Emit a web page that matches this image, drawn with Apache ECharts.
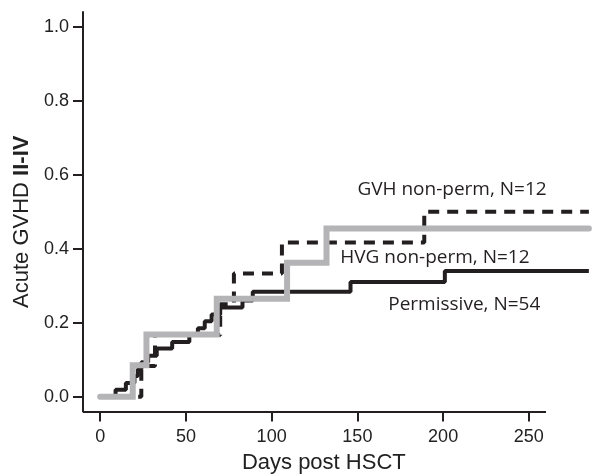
<!DOCTYPE html>
<html>
<head>
<meta charset="utf-8">
<script src="https://cdn.jsdelivr.net/npm/echarts@6/dist/echarts.min.js"></script>
<style>
html,body{margin:0;padding:0;background:#fff;}
#chart{width:592px;height:474px;}
</style>
</head>
<body>
<div id="chart"></div>
<script>
// ---- data ----
const xTicks = [0, 50, 100, 150, 200, 250];
const yTicks = [0, 0.2, 0.4, 0.6, 0.8, 1.0];

const permDays = [0, 9, 15, 20, 22, 24, 28, 33, 42, 52, 57, 61, 65, 70, 83, 89, 146, 201, 285];
const permVals = [0, 0.019, 0.037, 0.056, 0.074, 0.093, 0.111, 0.13, 0.148, 0.167, 0.185, 0.204, 0.222, 0.241, 0.26, 0.284, 0.31, 0.34, 0.34];

const gvhDays = [0, 24, 32, 70, 78, 106, 189, 285];
const gvhVals = [0, 0.083, 0.167, 0.25, 0.333, 0.417, 0.5, 0.5];

const hvgDays = [0, 19, 27, 68, 109, 132, 285];
const hvgVals = [0, 0.085, 0.168, 0.265, 0.362, 0.455, 0.455];

const seriesNames = ['Permissive, N=54', 'GVH non-perm, N=12', 'HVG non-perm, N=12'];
// label anchors (day, value) for the in-plot labels
const labelAnchors = [[168, 0.248], [150, 0.559], [140, 0.375]];
// drawn extent of the x axis line (days)
const xAxisSpan = [-10, 260];
const yMin = -0.04, yMax = 1.04;

const zip = (a, b) => a.map((d, i) => [d, b[i]]);

const chart = echarts.init(document.getElementById('chart'));
const black = '#231f20';
const gray = '#b4b4b6';
const labelFont = { fontFamily: 'Open Sans', fontSize: 19, color: black };

function mk(i) {
  return {
    data: [{ coord: labelAnchors[i], value: seriesNames[i] }],
    symbol: 'circle', symbolSize: 0, silent: true,
    label: Object.assign({ show: true, position: 'inside', align: 'left', verticalAlign: 'middle',
      formatter: seriesNames[i] }, labelFont)
  };
}

chart.setOption({
  animation: false,
  backgroundColor: '#fff',
  grid: { left: 83, right: 1.4, top: 12, bottom: 62.5, outerBoundsMode: 'none', containLabel: false },
  xAxis: {
    type: 'value', min: -10, max: 286,
    splitLine: { show: false },
    axisLine: { show: false, onZero: false },
    axisTick: { show: true, length: 10, lineStyle: { color: black, width: 2 }, customValues: xTicks },
    axisLabel: { customValues: xTicks, margin: 17, fontFamily: 'Liberation Sans', fontSize: 18, color: '#222' },
    name: 'Days post HSCT', nameLocation: 'middle', nameGap: 40,
    nameTextStyle: { fontFamily: 'Liberation Sans', fontSize: 22, color: '#222', padding: [0, 26, 0, 0] }
  },
  yAxis: {
    type: 'value', min: yMin, max: yMax,
    splitLine: { show: false },
    axisLine: { show: true, onZero: false, lineStyle: { color: black, width: 2 } },
    axisTick: { show: true, length: 10, lineStyle: { color: black, width: 2 }, customValues: yTicks },
    axisLabel: { customValues: yTicks, margin: 14, fontFamily: 'Liberation Sans', fontSize: 18, color: '#222',
      formatter: v => v.toFixed(1) },
    name: '{n|Acute GVHD }{b|II-IV}', nameLocation: 'middle', nameGap: 49,
    nameTextStyle: { fontFamily: 'Liberation Sans', fontSize: 22, color: '#222', padding: [0, 20, 0, 0],
      rich: { n: { fontFamily: 'Liberation Sans', fontSize: 22, color: '#222' },
              b: { fontFamily: 'Liberation Sans', fontSize: 22, color: '#222', fontWeight: 'bold' } } }
  },
  series: [
    { name: seriesNames[0], type: 'line', step: 'end', data: zip(permDays, permVals),
      showSymbol: false, symbol: 'none', lineStyle: { color: black, width: 4 }, z: 2, markPoint: mk(0),
      markLine: { silent: true, symbol: 'none', label: { show: false },
        lineStyle: { color: black, width: 2, type: 'solid' },
        data: [[{ coord: [xAxisSpan[0], yMin] }, { coord: [xAxisSpan[1], yMin] }]] } },
    { name: seriesNames[1], type: 'line', step: 'end', data: zip(gvhDays, gvhVals),
      showSymbol: false, symbol: 'none', lineStyle: { color: black, width: 4, type: [11, 8] }, z: 3, markPoint: mk(1) },
    { name: seriesNames[2], type: 'line', step: 'end', data: zip(hvgDays, hvgVals),
      showSymbol: false, symbol: 'none', lineStyle: { color: gray, width: 6, cap: 'round', join: 'miter' }, z: 4, markPoint: mk(2) }
  ]
});
</script>
</body>
</html>
